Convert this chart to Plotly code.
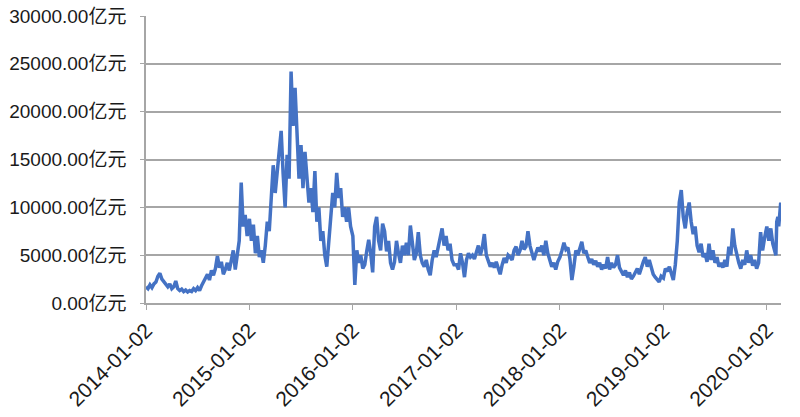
import pandas as pd
import plotly.graph_objects as go

# Weekly readings (亿元), each year starting at its first "01-02" and stepping 7 days
VALUES_2014 = [1700, 1500, 1900, 1600, 2000, 2200, 2800, 3100, 2500, 2200,
               1900, 1700, 2000, 1500, 1700, 2300, 1500, 1300, 1450, 1200,
               1350, 1150, 1300, 1200, 1500, 1300, 1600, 1300, 1800, 2200,
               2600, 3000, 2400, 3400, 2900, 3600, 4900, 3700, 4300, 3000,
               3500, 4200, 3400, 4500, 5500, 3500, 4800, 6500, 12600, 8000,
               9200, 7000]
VALUES_2015 = [8800, 6500, 8200, 5200, 7000, 4800, 5500, 4200, 6000, 8500,
               7500, 10500, 14400, 11500, 14000, 15500, 18000, 13500, 10000, 15500,
               13000, 24200, 18500, 22500, 18000, 13000, 16500, 12000, 15800, 13000,
               10500, 12000, 9500, 13800, 8500, 10000, 6500, 7500, 5000, 3800,
               6500, 9500, 11500, 10000, 13600, 11000, 12000, 9000, 10000, 8500,
               10000, 8000]
VALUES_2016 = [7000, 1900, 5500, 4200, 5000, 3600, 4000, 5400, 6600, 5200,
               3200, 8000, 9000, 6500, 5500, 8300, 7500, 5400, 6500, 4200,
               3500, 4300, 6500, 5200, 4200, 6000, 5000, 6300, 5000, 8100,
               6000, 4500, 5200, 7400, 5000, 4200, 3800, 4500, 3500, 2900,
               4500, 5500, 4800, 5800, 6500, 7800, 6000, 7000, 5500, 6200,
               4500, 4000]
VALUES_2017 = [4000, 3500, 5200, 4200, 2700, 4500, 5200, 4800, 5000, 4600,
               5300, 6000, 5000, 5800, 7200, 5000, 4400, 3800, 4200, 3700,
               4300, 3500, 3000, 4000, 4700, 4200, 5000, 4800, 4500, 5500,
               5900, 5000, 5500, 6500, 5600, 5900, 7500, 6000, 5200, 4500,
               5200, 5800, 5400, 6000, 5000, 6500, 5200, 4500, 3800, 4200,
               3500, 4300]
VALUES_2018 = [4800, 5500, 6300, 5600, 5800, 4600, 2400, 3800, 5500, 5000,
               5800, 6400, 5200, 5500, 4800, 4200, 4600, 4000, 4400, 3800,
               4200, 3500, 4000, 3600, 4800, 3500, 4200, 3700, 4000, 5000,
               3700, 3300, 2900, 3400, 2700, 3200, 2500, 2800, 3200, 3600,
               3000, 3800, 4300, 4800, 3800, 4500, 3700, 3000, 2700, 2400,
               2200, 2800]
VALUES_2019 = [2600, 3600, 3300, 3800, 3000, 2400, 4000, 6500, 10500, 11800,
               9000, 7800, 9500, 10500, 8500, 7200, 8000, 6000, 5300, 6200,
               4800, 5200, 4300, 6200, 4500, 5500, 4200, 4800, 3800, 4200,
               3700, 4500, 3800, 5900, 5000, 7800, 6000, 5000, 4200, 3600,
               4500, 4000, 5500, 4200, 5000, 3900, 4500, 3600, 4200, 7400,
               5500, 6800]
DATES_2020 = ["2020-01-02", "2020-01-09", "2020-01-16", "2020-01-23", "2020-02-03",
              "2020-02-06", "2020-02-10", "2020-02-13", "2020-02-17", "2020-02-20"]
VALUES_2020 = [8000, 6500, 7800, 6200, 5000, 8500, 9000, 8000, 9800, 10500]

X_TICKS = ["2014-01-02", "2015-01-02", "2016-01-02", "2017-01-02",
           "2018-01-02", "2019-01-02", "2020-01-02"]
Y_TICKS = [0, 5000, 10000, 15000, 20000, 25000, 30000]
Y_TICK_TEXT = [f"{v:.2f}亿元" for v in Y_TICKS]

dates, values = [], []
for year, vals in [(2014, VALUES_2014), (2015, VALUES_2015), (2016, VALUES_2016),
                   (2017, VALUES_2017), (2018, VALUES_2018), (2019, VALUES_2019)]:
    d = pd.date_range(f"{year}-01-02", periods=len(vals), freq="7D")
    dates.extend(d)
    values.extend(vals)
dates.extend(pd.to_datetime(DATES_2020))
values.extend(VALUES_2020)

fig = go.Figure()
fig.add_trace(go.Scatter(x=dates, y=values, mode="lines",
                         line=dict(color="#4472C4", width=3.5)))

yfont = dict(family="Arial, Liberation Sans, Noto Sans CJK SC", size=19, color="#1a1a1a")
xfont = dict(family="Arial, Liberation Sans, Noto Sans CJK SC", size=21, color="#1a1a1a")
fig.update_layout(
    width=800, height=417,
    margin=dict(l=146, r=19, t=16, b=114),
    paper_bgcolor="white", plot_bgcolor="white",
    showlegend=False,
    font=yfont,
    xaxis=dict(type="date", range=["2014-01-02", "2020-02-21"], automargin=False,
               tickvals=X_TICKS, ticktext=X_TICKS, tickangle=-45,
               ticklabeloverflow="allow",
               showgrid=False, showline=True, linecolor="#A6A6A6", linewidth=1.5,
               ticks="outside", ticklen=5, tickcolor="#A6A6A6", tickfont=xfont),
    yaxis=dict(range=[0, 30000], tickvals=Y_TICKS, ticktext=Y_TICK_TEXT, automargin=False,
               ticklabeloverflow="allow",
               showgrid=True, gridcolor="#A6A6A6", gridwidth=1.5,
               showline=True, linecolor="#A6A6A6", linewidth=1.5,
               ticks="outside", ticklen=4, tickcolor="#A6A6A6", tickfont=yfont,
               ticklabelstandoff=10, zeroline=False),
)
fig.write_html("out.html", config={"displayModeBar": False},
               post_script="document.body.style.margin='0';document.body.style.overflow='hidden';")
